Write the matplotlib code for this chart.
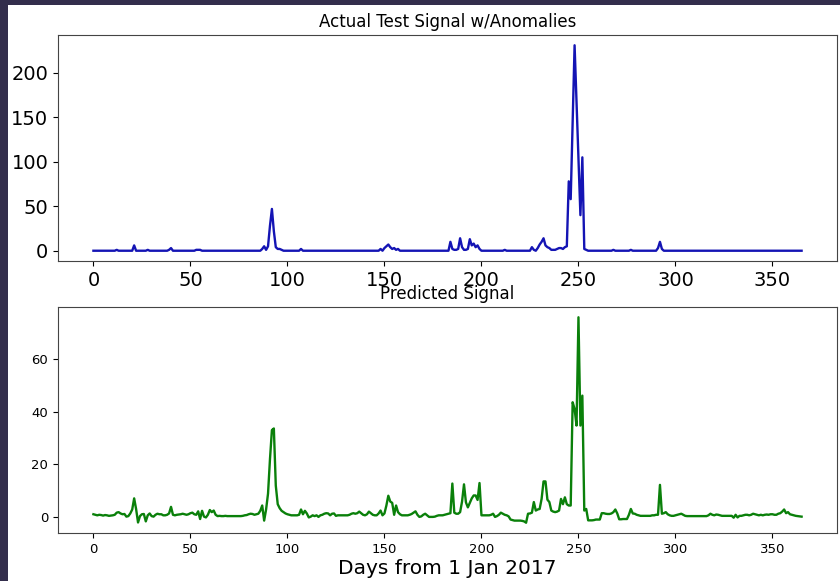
import numpy as np
import matplotlib
matplotlib.use("Agg")
import matplotlib.pyplot as plt
from matplotlib.patches import Rectangle

# days 0..365, one value per day
actual = [
    0, 0, 0, 0, 0, 0, 0, 0, 0, 0,
    0, 0, 1, 0, 0, 0, 0, 0, 0, 0,
    0, 6, 0, 0, 0, 0, 0, 0, 1, 0,
    0, 0, 0, 0, 0, 0, 0, 0, 0, 1,
    3, 0, 0, 0, 0, 0, 0, 0, 0, 0,
    0, 0, 0, 1, 1, 1, 0, 0, 0, 0,
    0, 0, 0, 0, 0, 0, 0, 0, 0, 0,
    0, 0, 0, 0, 0, 0, 0, 0, 0, 0,
    0, 0, 0, 0, 0, 0, 0, 2, 5, 1,
    5, 28, 47, 22, 4, 2, 2, 1, 0, 0,
    0, 0, 0, 0, 0, 0, 0, 2, 0, 0,
    0, 0, 0, 0, 0, 0, 0, 0, 0, 0,
    0, 0, 0, 0, 0, 0, 0, 0, 0, 0,
    0, 0, 0, 0, 0, 0, 0, 0, 0, 0,
    0, 0, 0, 0, 0, 0, 0, 0, 2, 0,
    3, 5, 7, 4, 2, 3, 1, 2, 0, 0,
    0, 0, 0, 0, 0, 0, 0, 0, 0, 0,
    0, 0, 0, 0, 0, 0, 0, 0, 0, 0,
    0, 0, 0, 0, 10, 2, 1, 1, 2, 14,
    4, 1, 1, 2, 13, 6, 8, 4, 6, 2,
    0, 0, 0, 0, 0, 0, 0, 0, 0, 0,
    0, 0, 1, 0, 0, 0, 0, 0, 0, 0,
    0, 0, 0, 0, 0, 0, 4, 1, 0, 3,
    7, 10, 14, 6, 4, 3, 1, 1, 1, 2,
    3, 3, 2, 4, 5, 78, 58, 145, 231, 168,
    104, 40, 105, 2, 1, 0, 0, 0, 0, 0,
    0, 0, 0, 0, 0, 0, 0, 0, 1, 0,
    0, 0, 0, 0, 0, 0, 0, 1, 0, 0,
    0, 0, 0, 0, 0, 0, 0, 0, 0, 0,
    0, 3, 10, 2, 0, 0, 0, 0, 0, 0,
    0, 0, 0, 0, 0, 0, 0, 0, 0, 0,
    0, 0, 0, 0, 0, 0, 0, 0, 0, 0,
    0, 0, 0, 0, 0, 0, 0, 0, 0, 0,
    0, 0, 0, 0, 0, 0, 0, 0, 0, 0,
    0, 0, 0, 0, 0, 0, 0, 0, 0, 0,
    0, 0, 0, 0, 0, 0, 0, 0, 0, 0,
    0, 0, 0, 0, 0, 0,
]

predicted = [
    1.2, 1.0, 0.8, 1.0, 0.9, 0.7, 0.9, 0.8, 0.6, 0.7,
    0.8, 1.0, 1.8, 2.0, 1.5, 1.2, 1.3, 0.3, 0.5, 1.5,
    3.0, 7.2, 3.2, -1.9, 0.5, 1.2, 1.3, -1.5, 0.8, 1.5,
    0.5, 0.3, 1.0, 1.4, 1.2, 1.2, 0.8, 0.8, 1.0, 1.5,
    4.0, 1.0, 0.8, 1.0, 1.1, 1.2, 1.4, 1.2, 1.0, 1.2,
    1.6, 1.8, 1.2, 1.0, 2.3, -0.6, 2.5, 0.3, 0.0, 1.0,
    2.8, 2.0, 2.6, 1.0, 0.5, 0.6, 0.5, 0.5, 0.6, 0.5,
    0.5, 0.5, 0.5, 0.5, 0.5, 0.5, 0.5, 0.6, 0.8, 0.9,
    1.2, 1.4, 1.3, 1.0, 1.2, 1.4, 2.5, 4.5, -1.2, 3.0,
    9.0, 22.0, 33.0, 33.6, 12.0, 5.0, 3.5, 2.5, 2.0, 1.5,
    1.2, 1.0, 0.8, 0.8, 0.8, 0.8, 1.0, 3.0, 1.2, 2.5,
    1.5, 0.0, 0.3, 0.8, 0.5, 0.8, 0.2, 0.8, 1.0, 1.4,
    1.6, 1.5, 0.8, 1.4, 1.5, 0.6, 0.8, 0.8, 0.8, 0.8,
    0.8, 0.8, 1.0, 1.4, 1.6, 1.4, 1.6, 2.2, 1.6, 1.0,
    0.8, 1.2, 2.2, 1.6, 1.0, 0.8, 0.8, 1.5, 2.6, 0.8,
    1.5, 4.5, 8.2, 6.0, 5.5, 1.0, 4.5, 2.0, 1.2, 0.8,
    0.8, 0.8, 0.8, 1.0, 1.3, 1.8, 2.3, 1.0, 0.2, 0.4,
    1.0, 1.4, 0.8, 0.2, 0.2, 0.2, 0.3, 0.6, 0.8, 0.8,
    0.8, 1.0, 1.2, 1.4, 1.6, 12.8, 1.8, 1.4, 1.4, 2.0,
    6.0, 12.5, 5.7, 3.8, 5.5, 7.2, 8.3, 8.3, 6.6, 13.0,
    0.8, 0.8, 0.8, 0.8, 0.8, 1.0, 1.4, 0.2, 0.5, 1.0,
    1.8, 1.4, 1.0, 0.8, 0.4, -0.8, -1.0, -1.2, -1.2, -1.2,
    -1.2, -1.3, -1.5, -2.0, 1.4, 1.5, 1.8, 5.8, 2.6, 3.0,
    3.2, 7.0, 13.6, 13.6, 6.7, 5.8, 2.6, 2.2, 2.0, 2.2,
    2.6, 7.0, 5.0, 7.6, 5.0, 4.5, 4.5, 43.5, 41.0, 34.7,
    75.6, 34.7, 46.0, 2.6, 3.2, -1.1, -1.1, -1.1, -1.0, -0.8,
    -0.8, -0.8, 1.6, 1.6, 1.4, 1.3, 1.3, 1.5, 2.0, 3.0,
    1.5, -0.7, -0.7, -0.6, -0.6, -0.6, 1.0, 3.2, 1.5, 1.4,
    1.0, 0.8, 0.6, 0.6, 0.6, 0.6, 0.6, 0.6, 0.8, 0.8,
    1.0, 1.0, 12.3, 1.4, 1.6, 2.0, 1.2, 0.8, 0.6, 0.6,
    0.8, 1.0, 1.2, 1.4, 1.0, 0.6, 0.5, 0.5, 0.5, 0.5,
    0.5, 0.5, 0.5, 0.5, 0.5, 0.5, 0.5, 0.8, 1.4, 1.0,
    0.8, 1.1, 1.0, 0.8, 0.6, 0.6, 0.6, 0.6, 0.6, 0.6,
    -0.1, 1.0, 0.0, 0.6, 0.6, 0.8, 1.0, 1.0, 0.8, 1.0,
    1.4, 1.2, 1.0, 0.8, 1.0, 0.8, 1.0, 1.1, 1.0, 1.2,
    1.2, 1.0, 1.0, 1.4, 1.6, 2.2, 3.0, 1.6, 2.0, 1.2,
    1.0, 0.8, 0.6, 0.5, 0.4, 0.3,
]

days = np.arange(len(actual))

fig = plt.figure(figsize=(8.4, 5.81), dpi=100, facecolor="#332e4c")
# white canvas inside the dark screenshot frame
fig.patches.append(Rectangle((8 / 840, 0), 1, 1 - 5 / 581, transform=fig.transFigure,
                             facecolor="white", edgecolor="none", zorder=-1))

ax1 = fig.add_axes([58 / 840, 1 - 261 / 581, (837 - 58) / 840, (261 - 35) / 581])
ax1.plot(days, actual, color="#1414b4", lw=1.7)
ax1.set_title("Actual Test Signal w/Anomalies", fontsize=12)
ax1.tick_params(labelsize=14)
ax1.set_xticks(range(0, 351, 50))
ax1.set_yticks(range(0, 201, 50))

ax2 = fig.add_axes([58 / 840, 1 - 533 / 581, (837 - 58) / 840, (533 - 307) / 581])
ax2.plot(days, predicted, color="#0a800a", lw=1.7)
ax2.set_title("Predicted Signal", fontsize=12)
ax2.tick_params(labelsize=9.5)
ax2.set_xticks(range(0, 351, 50))
ax2.set_yticks(range(0, 61, 20))
ax2.set_xlabel("Days from 1 Jan 2017", fontsize=14.5, labelpad=2)

for ax in (ax1, ax2):
    for s in ax.spines.values():
        s.set_color("#444444")

fig.savefig("out.png", dpi=100, facecolor=fig.get_facecolor())
